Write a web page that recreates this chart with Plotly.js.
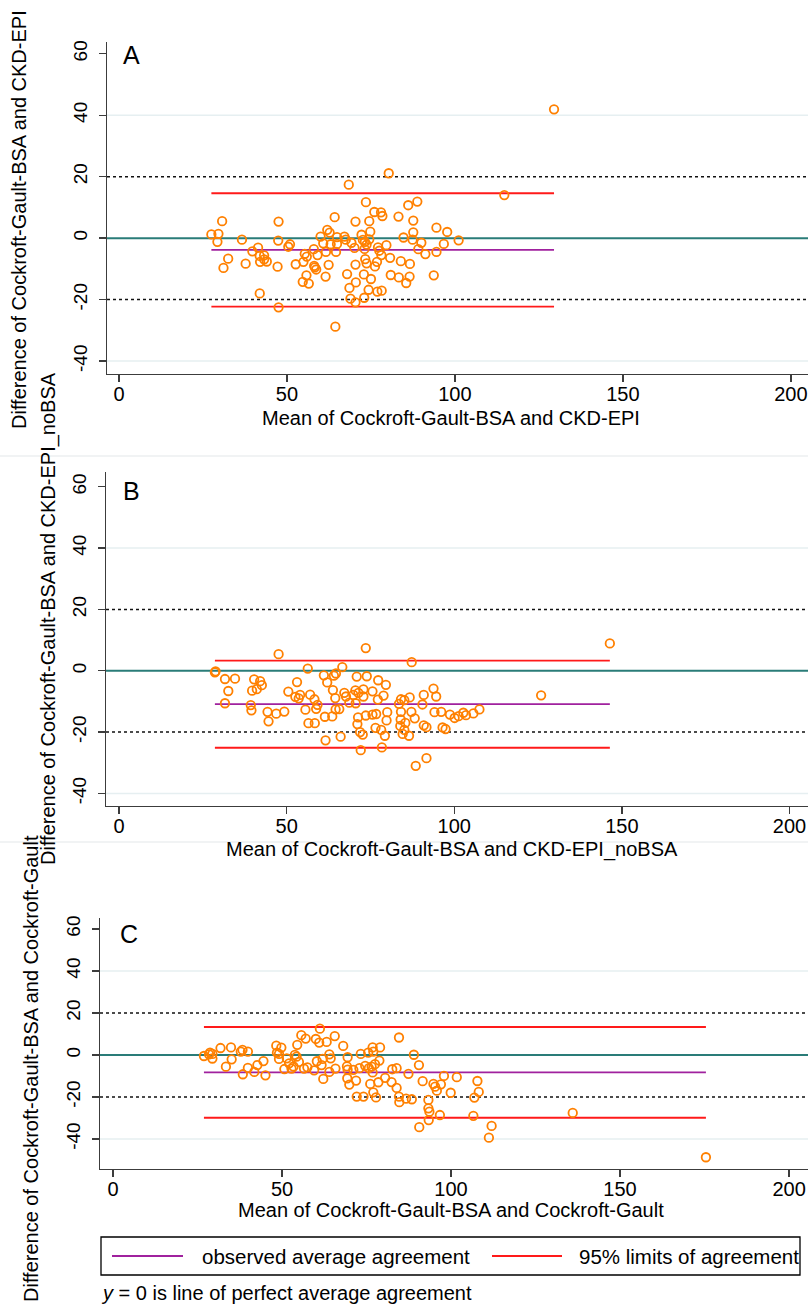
<!DOCTYPE html>
<html>
<head>
<meta charset="utf-8">
<script src="https://cdn.plot.ly/plotly-3.0.1.min.js"></script>
<style>
html,body{margin:0;padding:0;background:#fff;}
#chart{width:808px;height:1306px;}
</style>
</head>
<body>
<div id="chart"></div>
<script>
// ---------------- DATA ----------------
// Panel A: Cockroft-Gault-BSA vs CKD-EPI
const meanA = [27.5,29.6,29.3,30.7,32.5,31.1,36.6,37.7,39.7,41.4,41.9,43.2,42.0,44.0,43.2,41.9,47.2,47.5,47.4,47.5,
  50.4,50.9,52.6,54.9,55.3,55.9,58.0,59.1,58.1,58.3,58.7,55.8,54.7,56.5,60.0,60.8,61.6,62.0,62.7,63.0,
  64.2,64.9,64.9,64.6,62.4,61.5,64.4,67.1,67.5,69.2,70.1,68.4,70.4,67.9,70.4,68.6,68.9,70.4,70.5,72.2,
  72.6,73.2,73.7,73.5,74.5,74.8,74.5,73.1,73.3,73.7,72.9,75.0,74.3,73.0,76.0,78.0,78.4,77.1,77.5,78.1,
  79.6,76.8,76.2,76.9,78.2,80.3,80.7,80.9,83.2,83.9,83.3,84.7,85.5,86.1,87.6,87.6,87.4,88.8,89.1,90.0,
  86.6,86.5,91.2,93.7,94.5,94.5,96.7,97.7,101.1,114.7,129.5];
const diffA = [1.2,1.4,-1.2,5.5,-6.7,-9.7,-0.5,-8.3,-4.3,-3.1,-5.8,-5.6,-7.7,-7.6,-6.9,-18.0,-9.3,5.4,-0.8,-22.5,
  -2.8,-2.0,-8.5,-7.7,-5.1,-6.0,-3.6,-5.5,-9.0,-9.5,-10.2,-12.1,-14.2,-14.8,0.5,-1.7,-4.5,2.7,1.8,-2.0,
  6.8,0.3,-1.9,-4.5,-8.7,-12.5,-28.8,0.5,-0.5,-1.5,-3.2,17.4,5.4,-11.7,-8.6,-16.2,-19.7,-20.9,-14.4,1.1,
  -0.6,-1.2,-2.1,11.7,5.5,2.1,-0.4,-3.5,-6.8,-8.2,-11.8,-13.3,-16.8,-19.4,8.5,8.4,7.2,-3.0,-4.1,-5.5,
  -2.3,-7.7,-9.2,-17.4,-17.1,21.1,-6.4,-12.0,7.0,-7.5,-12.8,0.2,-14.6,10.7,5.7,1.9,-0.5,11.9,-3.6,-1.5,
  -8.4,-12.5,-5.2,-12.1,3.4,-4.5,-1.9,2.0,-0.7,14.0,41.9];
const biasA = -3.8, lowerA = -22.3, upperA = 14.6;

// Panel B: Cockroft-Gault-BSA vs CKD-EPI_noBSA
const meanB = [28.6,28.8,31.6,32.6,31.6,34.6,39.3,39.5,39.7,40.3,41.1,42.1,42.6,44.3,44.6,46.9,47.6,49.3,50.5,52.6,
  53.1,53.6,54.0,55.6,56.3,56.5,57.0,58.3,58.4,58.8,59.2,61.1,62.1,61.4,61.6,63.6,63.8,64.5,64.1,64.7,
  64.6,65.7,66.6,66.1,67.2,67.7,68.7,69.9,70.6,70.5,70.9,71.4,71.3,71.1,71.9,72.7,72.1,72.9,72.9,73.6,
  73.9,73.6,75.6,75.6,76.7,76.5,77.3,77.2,78.4,78.2,78.9,79.6,79.3,80.0,79.8,83.5,84.1,85.1,84.1,84.0,
  83.9,84.6,85.4,85.1,86.5,86.7,87.3,87.2,88.2,88.5,90.5,90.9,91.7,90.9,91.7,93.8,94.6,94.1,96.1,96.5,
  97.4,98.7,100.1,101.3,102.7,103.5,105.7,107.5,125.9,146.4];
const diffB = [-0.5,-0.2,-2.7,-6.6,-10.6,-2.6,-11.2,-12.9,-6.5,-2.8,-6.0,-3.4,-4.7,-13.4,-16.5,-14.0,5.4,-13.3,-6.8,-8.5,
  -3.7,-9.0,-7.9,-12.7,0.7,-17.1,-7.8,-9.3,-17.1,-12.4,-11.1,-1.5,-3.8,-15.0,-22.7,-14.9,-6.3,-8.9,-1.6,-0.9,
  -12.6,-12.5,1.2,-21.5,-7.2,-8.4,-10.4,-7.9,-10.6,-6.4,-1.9,-7.2,-15.2,-17.4,-20.0,-20.8,-25.9,-6.1,-8.4,7.4,
  -1.8,-14.6,-6.7,-14.3,-14.1,-18.6,-3.1,-9.4,-25.0,-19.3,-8.1,-4.6,-21.2,-13.5,-16.2,-10.8,-9.3,-9.6,-13.4,-15.9,
  -18.0,-20.6,-17.0,-19.3,-21.2,-8.7,2.8,-13.4,-15.5,-31.0,-11.0,-7.9,-28.5,-17.8,-18.4,-5.8,-8.4,-13.5,-13.4,-18.5,
  -19.0,-14.3,-15.4,-14.8,-13.7,-14.5,-13.9,-12.6,-8.0,8.9];
const biasB = -10.9, lowerB = -25.1, upperB = 3.3;

// Panel C: Cockroft-Gault-BSA vs Cockroft-Gault
const meanC = [26.9,28.7,28.4,29.4,29.4,31.8,33.4,34.9,35.1,37.8,38.3,39.9,38.4,39.9,41.8,42.7,44.5,45.1,48.3,48.5,
  49.1,49.8,49.1,50.7,51.4,52.1,52.8,53.4,53.8,54.3,54.5,55.0,55.7,57.0,56.5,57.5,59.5,60.0,60.3,61.0,
  61.2,61.7,62.0,62.2,63.2,64.0,64.4,64.0,65.8,65.6,68.1,69.4,69.2,69.4,69.3,69.9,71.1,71.9,72.1,73.3,
  72.9,74.1,74.6,75.5,75.7,76.1,76.5,76.8,77.0,77.0,76.8,77.8,77.5,78.8,79.0,78.5,80.5,82.4,82.6,83.9,
  83.9,84.6,84.6,84.7,86.7,88.4,87.4,89.0,90.5,91.6,90.6,93.3,93.3,93.6,93.4,94.8,95.3,95.8,97.0,96.7,
  97.9,99.9,101.7,106.6,106.9,107.8,108.2,112.0,111.2,136.0,175.4];
const diffC = [-0.5,1.1,0.3,0.5,-1.7,3.3,-5.6,3.6,-2.1,1.6,2.4,1.6,-9.2,-6.2,-8.1,-4.8,-2.9,-9.7,4.4,1.1,
  0.5,3.5,-1.9,-6.7,-1.6,-4.0,-6.5,-5.5,0.0,-0.8,4.8,-3.3,9.4,7.8,-6.5,-5.9,-7.3,7.6,-3.0,5.9,
  12.5,-4.8,-1.9,-11.4,6.2,0.3,-1.6,-8.1,-6.5,9.0,4.3,-1.1,-5.4,-7.0,-11.1,-14.1,-7.1,-12.2,-19.8,0.5,
  -6.3,-19.8,-5.2,1.1,-6.3,-13.8,-5.6,3.6,1.6,-17.8,-8.3,-20.2,-4.4,-2.7,3.6,-13.0,-10.9,-12.9,-6.8,-6.3,
  -15.7,8.3,-19.8,-22.5,-20.8,-21.1,-9.0,0.1,-4.8,-12.5,-34.4,-21.4,-25.4,-27.0,-31.0,-13.8,-15.1,-17.0,-14.0,-28.6,
  -10.0,-18.0,-10.6,-29.0,-20.3,-12.4,-17.6,-33.8,-39.4,-27.6,-48.7];
const biasC = -8.3, lowerC = -29.9, upperC = 13.3;

const xTicks = [0, 50, 100, 150, 200];
const yTicks = [-40, -20, 0, 20, 40, 60];
const panelLetters = ["A", "B", "C"];
const xTitles = ["Mean of Cockroft-Gault-BSA and CKD-EPI",
                 "Mean of Cockroft-Gault-BSA and CKD-EPI_noBSA",
                 "Mean of Cockroft-Gault-BSA and Cockroft-Gault"];
const yTitles = ["Difference of Cockroft-Gault-BSA and CKD-EPI",
                 "Difference of Cockroft-Gault-BSA and CKD-EPI_noBSA",
                 "Difference of Cockroft-Gault-BSA and Cockroft-Gault"];
const legendLabels = ["observed average agreement", "95% limits of agreement"];
const footnote = "<i>y</i> = 0 is line of perfect average agreement";

// ---------------- STYLE ----------------
const W = 808, H = 1306;
const px = X => X / W;
const py = Y => 1 - Y / H;
const REG = "Liberation Sans, Arial, sans-serif";
const ORANGE = "#ff8000", RED = "#ff1a1a", PURPLE = "#a0219e", TEAL = "#2a7c78";
const AXIS = "#3c3c3c", GRID = "#e6eff1";

const panels = [
  {x: meanA, y: diffA, bias: biasA, lo: lowerA, hi: upperA,
   xdom: [px(107), 1], ydom: [py(374), py(42)], xr: [-3.57, 205.1], yr: [-44.2, 63.8],
   letter: [131, 55], xt: [451, 418], yt: [19, 220]},
  {x: meanB, y: diffB, bias: biasB, lo: lowerB, hi: upperB,
   xdom: [px(106), 1], ydom: [py(806), py(472)], xr: [-3.88, 205.5], yr: [-44.1, 64.8],
   letter: [131, 491], xt: [452, 849], yt: [48, 619]},
  {x: meanC, y: diffC, bias: biasC, lo: lowerC, hi: upperC,
   xdom: [px(100), 1], ydom: [py(1169), py(918)], xr: [-3.85, 205.6], yr: [-54.3, 65.2],
   letter: [129, 934], xt: [451, 1210], yt: [31, 1069]}
];

const traces = [];
const shapes = [];
const annotations = [];
const layout = {
  width: W, height: H,
  margin: {l: 0, r: 0, t: 0, b: 0},
  paper_bgcolor: "#fff", plot_bgcolor: "rgba(0,0,0,0)",
  showlegend: false,
  font: {family: REG, color: "#000"}
};

panels.forEach((p, i) => {
  const sfx = i === 0 ? "" : String(i + 1);
  const xa = "x" + sfx, ya = "y" + sfx;
  layout["xaxis" + sfx] = {
    domain: p.xdom, range: p.xr, anchor: ya,
    tickmode: "array", tickvals: xTicks, ticktext: xTicks.map(String),
    ticks: "outside", ticklen: 7, tickwidth: 1.3, tickcolor: AXIS,
    showline: true, linecolor: AXIS, linewidth: 1.3,
    showgrid: false, zeroline: false, ticklabeloverflow: "allow",
    ticklabelstandoff: -5,
    tickfont: {family: REG, size: 20, color: "#000"}
  };
  layout["yaxis" + sfx] = {
    domain: p.ydom, range: p.yr, anchor: xa,
    tickmode: "array", tickvals: yTicks, ticktext: yTicks.map(String),
    tickangle: -90, ticklabelstandoff: 4,
    ticks: "outside", ticklen: 7, tickwidth: 1.3, tickcolor: AXIS,
    showline: true, linecolor: AXIS, linewidth: 1.3,
    showgrid: false, zeroline: false,
    tickfont: {family: REG, size: 19, color: "#000"}
  };
  // light grid lines at +-40
  [40, -40].forEach(v => shapes.push({type: "line", xref: xa + " domain", yref: ya,
    x0: 0, x1: 1, y0: v, y1: v, line: {color: GRID, width: 1.5}, layer: "below"}));
  // dotted +-20
  [20, -20].forEach(v => shapes.push({type: "line", xref: xa + " domain", yref: ya,
    x0: 0, x1: 1, y0: v, y1: v, line: {color: "#111", width: 1.5, dash: "dot"}, layer: "below"}));
  // perfect agreement line
  shapes.push({type: "line", xref: xa + " domain", yref: ya, x0: 0, x1: 1, y0: 0, y1: 0,
    line: {color: TEAL, width: 2}, layer: "below"});

  const xmin = Math.min(...p.x), xmax = Math.max(...p.x);
  traces.push({type: "scatter", mode: "lines", xaxis: xa, yaxis: ya,
    x: [xmin, xmax], y: [p.bias, p.bias], line: {color: PURPLE, width: 1.8}, hoverinfo: "skip"});
  traces.push({type: "scatter", mode: "lines", xaxis: xa, yaxis: ya,
    x: [xmin, xmax], y: [p.hi, p.hi], line: {color: RED, width: 1.8}, hoverinfo: "skip"});
  traces.push({type: "scatter", mode: "lines", xaxis: xa, yaxis: ya,
    x: [xmin, xmax], y: [p.lo, p.lo], line: {color: RED, width: 1.8}, hoverinfo: "skip"});
  traces.push({type: "scatter", mode: "markers", xaxis: xa, yaxis: ya,
    x: p.x, y: p.y, cliponaxis: false,
    marker: {symbol: "circle-open", size: 8.5, color: ORANGE, line: {width: 1.8, color: ORANGE}}});

  annotations.push({xref: "paper", yref: "paper", x: px(p.letter[0]), y: py(p.letter[1]),
    text: panelLetters[i], showarrow: false, xanchor: "center", yanchor: "middle",
    font: {family: REG, size: 25, color: "#000"}});
  annotations.push({xref: "paper", yref: "paper", x: px(p.xt[0]), y: py(p.xt[1]),
    text: xTitles[i], showarrow: false, xanchor: "center", yanchor: "middle",
    font: {family: REG, size: 20, color: "#000"}});
  annotations.push({xref: "paper", yref: "paper", x: px(p.yt[0]), y: py(p.yt[1]),
    text: yTitles[i], showarrow: false, xanchor: "center", yanchor: "middle", textangle: -90,
    font: {family: REG, size: 20, color: "#000"}});
});

// faint separators between stacked panels
[456, 842].forEach(Y => shapes.push({type: "line", xref: "paper", yref: "paper",
  x0: 0, x1: 1, y0: py(Y), y1: py(Y), line: {color: "#f1f3f4", width: 2}}));

// legend box
shapes.push({type: "rect", xref: "paper", yref: "paper", x0: px(101), x1: px(800), y0: py(1275), y1: py(1237),
  line: {color: "#000", width: 1.3}, fillcolor: "rgba(0,0,0,0)"});
shapes.push({type: "line", xref: "paper", yref: "paper", x0: px(112), x1: px(183), y0: py(1256), y1: py(1256),
  line: {color: PURPLE, width: 1.8}});
shapes.push({type: "line", xref: "paper", yref: "paper", x0: px(492), x1: px(562), y0: py(1256), y1: py(1256),
  line: {color: RED, width: 1.8}});
annotations.push({xref: "paper", yref: "paper", x: px(200), y: py(1256), text: legendLabels[0],
  showarrow: false, xanchor: "left", yanchor: "middle", font: {family: REG, size: 20.5, color: "#000"}});
annotations.push({xref: "paper", yref: "paper", x: px(577), y: py(1256), text: legendLabels[1],
  showarrow: false, xanchor: "left", yanchor: "middle", font: {family: REG, size: 20.5, color: "#000"}});
annotations.push({xref: "paper", yref: "paper", x: px(99), y: py(1293), text: footnote,
  showarrow: false, xanchor: "left", yanchor: "middle", font: {family: REG, size: 20, color: "#000"}});

layout.shapes = shapes;
layout.annotations = annotations;

Plotly.newPlot("chart", traces, layout, {staticPlot: true, displayModeBar: false});
</script>
</body>
</html>
